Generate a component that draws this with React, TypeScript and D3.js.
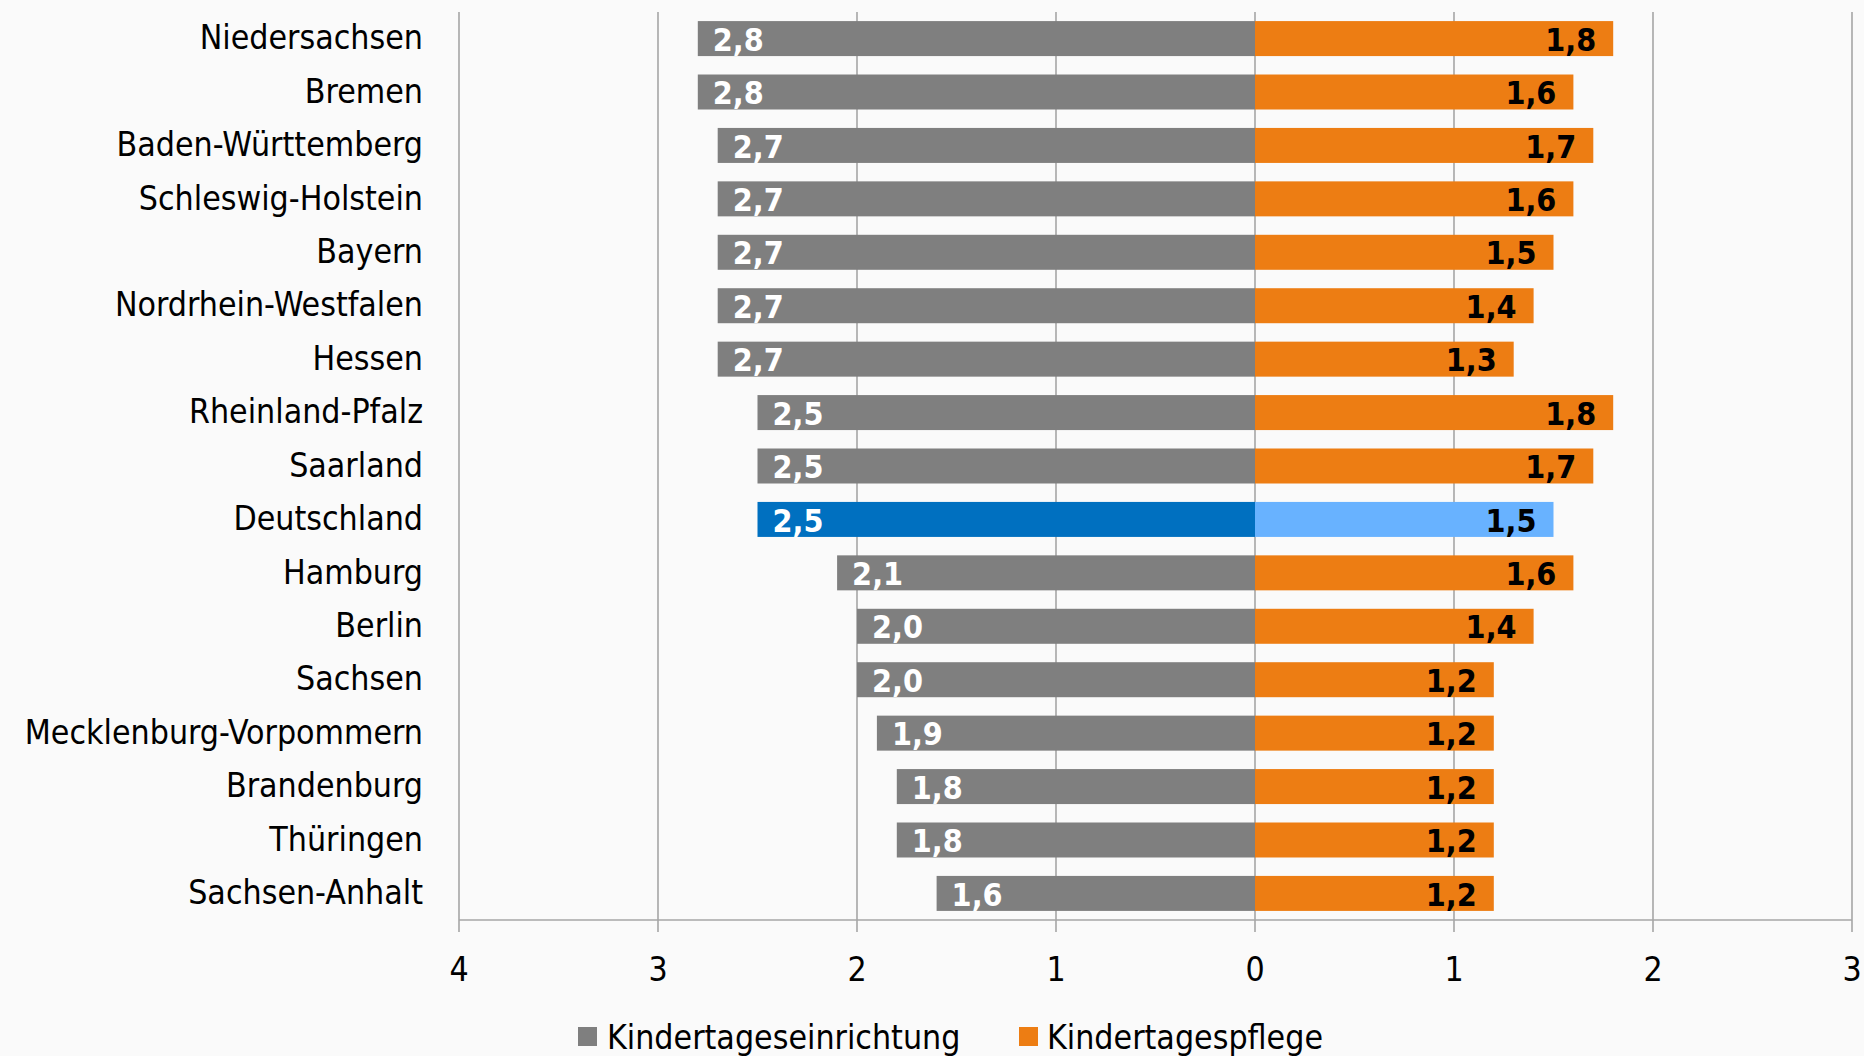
import React from "react";
import * as d3 from "d3";

const categories = [
  "Niedersachsen", "Bremen", "Baden-Württemberg", "Schleswig-Holstein", "Bayern",
  "Nordrhein-Westfalen", "Hessen", "Rheinland-Pfalz", "Saarland", "Deutschland",
  "Hamburg", "Berlin", "Sachsen", "Mecklenburg-Vorpommern", "Brandenburg",
  "Thüringen", "Sachsen-Anhalt",
];
const einrichtung = [2.8, 2.8, 2.7, 2.7, 2.7, 2.7, 2.7, 2.5, 2.5, 2.5, 2.1, 2.0, 2.0, 1.9, 1.8, 1.8, 1.6];
const pflege = [1.8, 1.6, 1.7, 1.6, 1.5, 1.4, 1.3, 1.8, 1.7, 1.5, 1.6, 1.4, 1.2, 1.2, 1.2, 1.2, 1.2];
const tickValues = [-4, -3, -2, -1, 0, 1, 2, 3];
const seriesNames = ["Kindertageseinrichtung", "Kindertagespflege"];
const highlight = "Deutschland";

const W = 1864, H = 1056;
const FONT = "'DejaVu Sans Condensed', 'Liberation Sans Narrow', sans-serif";
const GREY = "#7f7f7f", ORANGE = "#ed7d13", BLUE = "#0070c0", LIGHTBLUE = "#68b2ff";
const GRID = "#a6a6a6";

export default function App() {
  const x = d3.scaleLinear().domain([-4, 3]).range([459, 1852]);
  const y = d3.scaleBand<string>().domain(categories).range([12, 920]).paddingInner(0.345).paddingOuter(0.17);
  const fmt = (v: number) => d3.format(".1f")(v).replace(".", ",");
  const fs = 32;
  const fsLab = 33.6;
  return (
    <svg width={W} height={H} style={{ position: "absolute", left: 0, top: 0, background: "#fafafa" }}>
      <rect width={W} height={H} fill="#fafafa" />
      {tickValues.map((t) => (
        <line key={"g" + t} x1={x(t)} x2={x(t)} y1={12} y2={932} stroke={GRID} strokeWidth={1.6} />
      ))}
      <line x1={x(-4)} x2={x(3)} y1={920} y2={920} stroke={GRID} strokeWidth={1.6} />
      {categories.map((c, i) => {
        const yy = y(c)!;
        const bh = y.bandwidth();
        const hl = c === highlight;
        return (
          <g key={c}>
            <rect x={x(-einrichtung[i])} y={yy} width={x(0) - x(-einrichtung[i])} height={bh} fill={hl ? BLUE : GREY} />
            <rect x={x(0)} y={yy} width={x(pflege[i]) - x(0)} height={bh} fill={hl ? LIGHTBLUE : ORANGE} />
            <text x={x(-einrichtung[i]) + 15} y={yy + bh / 2 + 1} dy="0.35em" fill="#fff" fontWeight="bold" fontSize={fs} fontFamily={FONT}>
              {fmt(einrichtung[i])}
            </text>
            <text x={x(pflege[i]) - 17} y={yy + bh / 2 + 1} dy="0.35em" textAnchor="end" fill="#000" fontWeight="bold" fontSize={fs} fontFamily={FONT}>
              {fmt(pflege[i])}
            </text>
            <text x={423} y={yy + bh / 2 - 1} dy="0.35em" textAnchor="end" fill="#000" fontSize={fsLab} fontFamily={FONT}>
              {c}
            </text>
          </g>
        );
      })}
      {tickValues.map((t) => (
        <text key={"t" + t} x={x(t)} y={969} dy="0.35em" textAnchor="middle" fontSize={fsLab} fontFamily={FONT} fill="#000">
          {Math.abs(t)}
        </text>
      ))}
      <rect x={578} y={1027} width={19} height={19} fill={GREY} />
      <text x={607} y={1037} dy="0.35em" fontSize={fsLab} fontFamily={FONT} fill="#000">{seriesNames[0]}</text>
      <rect x={1019} y={1027} width={19} height={19} fill={ORANGE} />
      <text x={1047} y={1037} dy="0.35em" fontSize={fsLab} fontFamily={FONT} fill="#000">{seriesNames[1]}</text>
    </svg>
  );
}
